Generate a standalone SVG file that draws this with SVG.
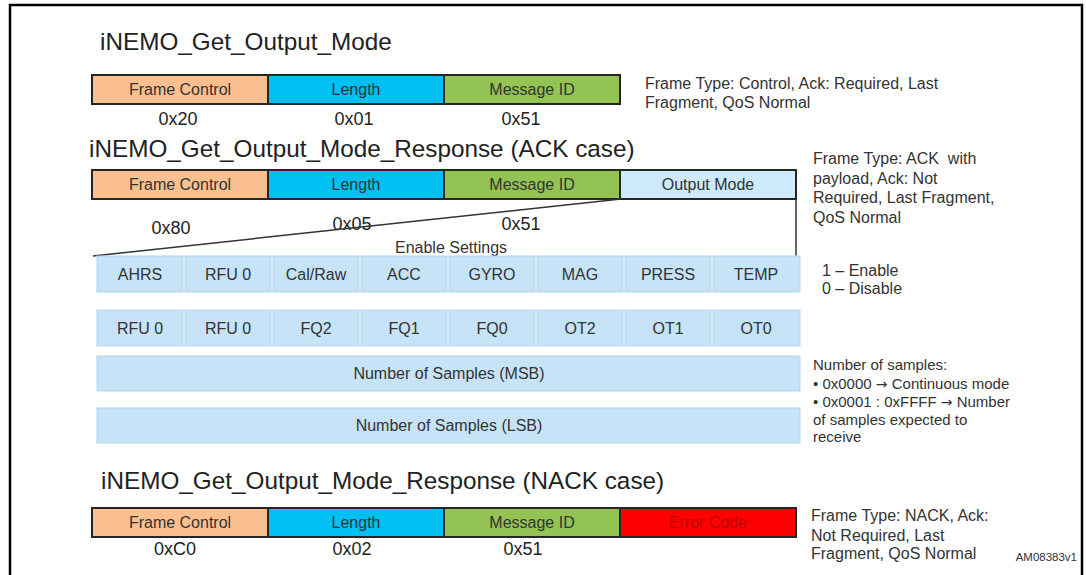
<svg xmlns="http://www.w3.org/2000/svg" width="1086" height="575" viewBox="0 0 1086 575">
<style>
  text { font-family: "Liberation Sans", Arial, sans-serif; }
  .title { font-size: 24.3px; fill: #222; }
  .lbl { font-size: 16px; fill: #333; text-anchor: middle; }
  .hex { font-size: 18px; fill: #222; text-anchor: middle; }
  .note { font-size: 16px; fill: #333; }
  .note15 { font-size: 15px; fill: #333; }
  .arw { font-family: "DejaVu Sans", sans-serif; font-size: 14px; }
  .bar { stroke: #262626; stroke-width: 2; }
  .fc { fill: #fac08f; }
  .len { fill: #00bff2; }
  .mid { fill: #92c353; }
  .om { fill: #cde9fb; }
  .err { fill: #ff0000; }
  .cell { fill: #c6e3f7; stroke: #b3d5ee; stroke-width: 1; }
  .conn { stroke: #333; stroke-width: 1.5; fill: none; }
</style>
<rect x="0" y="0" width="1086" height="575" fill="#ffffff"/>
<rect x="10" y="5" width="1072" height="600" fill="none" stroke="#000" stroke-width="2.5"/>

<g id="req">
  <text class="title" x="100" y="50">iNEMO_Get_Output_Mode</text>
  <rect class="bar fc" x="92" y="75" width="176" height="29"/>
  <rect class="bar len" x="268" y="75" width="176" height="29"/>
  <rect class="bar mid" x="444" y="75" width="176" height="29"/>
  <text class="lbl" x="180" y="95">Frame Control</text>
  <text class="lbl" x="356" y="95">Length</text>
  <text class="lbl" x="532" y="95">Message ID</text>
  <text class="hex" x="178" y="125">0x20</text>
  <text class="hex" x="354" y="125">0x01</text>
  <text class="hex" x="521" y="125">0x51</text>
  <text class="note" x="645" y="89">Frame Type: Control, Ack: Required, Last</text>
  <text class="note" x="645" y="108">Fragment, QoS Normal</text>
</g>

<g id="ack">
  <text class="title" x="89" y="157">iNEMO_Get_Output_Mode_Response (ACK case)</text>
  <rect class="bar fc" x="92" y="170" width="176" height="29"/>
  <rect class="bar len" x="268" y="170" width="176" height="29"/>
  <rect class="bar mid" x="444" y="170" width="176" height="29"/>
  <rect class="bar om" x="620" y="170" width="176" height="29"/>
  <text class="lbl" x="180" y="190">Frame Control</text>
  <text class="lbl" x="356" y="190">Length</text>
  <text class="lbl" x="532" y="190">Message ID</text>
  <text class="lbl" x="708" y="190">Output Mode</text>
  <text class="hex" x="171" y="234">0x80</text>
  <text class="hex" x="352" y="230">0x05</text>
  <text class="hex" x="521" y="230">0x51</text>
  <text class="note" x="813" y="164">Frame Type: ACK&#160; with</text>
  <text class="note" x="813" y="184">payload, Ack: Not</text>
  <text class="note" x="813" y="203">Required, Last Fragment,</text>
  <text class="note" x="813" y="223">QoS Normal</text>
</g>

<g id="connectors">
  <line class="conn" x1="93" y1="256" x2="621" y2="199"/>
  <line class="conn" x1="796" y1="199" x2="796" y2="257"/>
</g>

<g id="enable">
  <text class="lbl" x="451" y="253">Enable Settings</text>
  <rect class="cell" x="97" y="256" width="86" height="36"/>
  <rect class="cell" x="185" y="256" width="86" height="36"/>
  <rect class="cell" x="273" y="256" width="86" height="36"/>
  <rect class="cell" x="361" y="256" width="86" height="36"/>
  <rect class="cell" x="449" y="256" width="86" height="36"/>
  <rect class="cell" x="537" y="256" width="86" height="36"/>
  <rect class="cell" x="625" y="256" width="86" height="36"/>
  <rect class="cell" x="713" y="256" width="87" height="36"/>
  <text class="lbl" x="140" y="280">AHRS</text>
  <text class="lbl" x="228" y="280">RFU 0</text>
  <text class="lbl" x="316" y="280">Cal/Raw</text>
  <text class="lbl" x="404" y="280">ACC</text>
  <text class="lbl" x="492" y="280">GYRO</text>
  <text class="lbl" x="580" y="280">MAG</text>
  <text class="lbl" x="668" y="280">PRESS</text>
  <text class="lbl" x="756" y="280">TEMP</text>
  <text class="note" x="822" y="276">1 – Enable</text>
  <text class="note" x="822" y="294">0 – Disable</text>
</g>

<g id="freq">
  <rect class="cell" x="97" y="310" width="86" height="36"/>
  <rect class="cell" x="185" y="310" width="86" height="36"/>
  <rect class="cell" x="273" y="310" width="86" height="36"/>
  <rect class="cell" x="361" y="310" width="86" height="36"/>
  <rect class="cell" x="449" y="310" width="86" height="36"/>
  <rect class="cell" x="537" y="310" width="86" height="36"/>
  <rect class="cell" x="625" y="310" width="86" height="36"/>
  <rect class="cell" x="713" y="310" width="87" height="36"/>
  <text class="lbl" x="140" y="334">RFU 0</text>
  <text class="lbl" x="228" y="334">RFU 0</text>
  <text class="lbl" x="316" y="334">FQ2</text>
  <text class="lbl" x="404" y="334">FQ1</text>
  <text class="lbl" x="492" y="334">FQ0</text>
  <text class="lbl" x="580" y="334">OT2</text>
  <text class="lbl" x="668" y="334">OT1</text>
  <text class="lbl" x="756" y="334">OT0</text>
</g>

<g id="samples">
  <rect class="cell" x="97" y="356" width="703" height="35"/>
  <text class="lbl" x="449" y="379">Number of Samples (MSB)</text>
  <rect class="cell" x="97" y="408" width="703" height="35"/>
  <text class="lbl" x="449" y="431">Number of Samples (LSB)</text>
  <text class="note15" x="813" y="370">Number of samples:</text>
  <text class="note15" x="813" y="389">• 0x0000 <tspan class="arw">→</tspan> Continuous mode</text>
  <text class="note15" x="813" y="407">• 0x0001 : 0xFFFF <tspan class="arw">→</tspan> Number</text>
  <text class="note15" x="813" y="425">of samples expected to</text>
  <text class="note15" x="813" y="442">receive</text>
</g>

<g id="nack">
  <text class="title" x="101" y="489">iNEMO_Get_Output_Mode_Response (NACK case)</text>
  <rect class="bar fc" x="92" y="508" width="176" height="29"/>
  <rect class="bar len" x="268" y="508" width="176" height="29"/>
  <rect class="bar mid" x="444" y="508" width="176" height="29"/>
  <rect class="bar err" x="620" y="508" width="176" height="29"/>
  <text class="lbl" x="180" y="528">Frame Control</text>
  <text class="lbl" x="356" y="528">Length</text>
  <text class="lbl" x="532" y="528">Message ID</text>
  <text class="lbl" x="708" y="528" style="fill:#b80000">Error Code</text>
  <text class="hex" x="175" y="555">0xC0</text>
  <text class="hex" x="352" y="555">0x02</text>
  <text class="hex" x="523" y="555">0x51</text>
  <text class="note" x="811" y="521">Frame Type: NACK, Ack:</text>
  <text class="note" x="811" y="541">Not Required, Last</text>
  <text class="note" x="811" y="559">Fragment, QoS Normal</text>
</g>

<text x="1077" y="561" font-size="11.5" fill="#333" text-anchor="end">AM08383v1</text>
</svg>
